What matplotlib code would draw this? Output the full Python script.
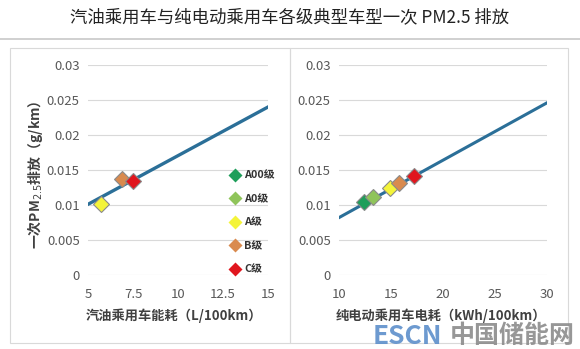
import matplotlib.pyplot as plt
from matplotlib.lines import Line2D
from matplotlib.patches import Rectangle

plt.rcParams['font.family'] = ['Noto Sans CJK SC', 'DejaVu Sans']

classes = ['A00级', 'A0级', 'A级', 'B级', 'C级']
class_colors = ['#1e9e5a', '#8fc45a', '#f4f43a', '#d98a4e', '#e0161e']

# gasoline cars: energy use (L/100km) vs PM2.5 (g/km), classes A, B, C
gas_cls = [2, 3, 4]
gas_x = [5.7, 6.9, 7.5]
gas_y = [0.0101, 0.0137, 0.0135]
gas_line_x = [5, 15]
gas_line_y = [0.0101, 0.0240]

# battery EVs: electricity use (kWh/100km) vs PM2.5 (g/km), all classes
ev_cls = [0, 1, 2, 3, 4]
ev_x = [12.4, 13.3, 14.9, 15.8, 17.2]
ev_y = [0.0104, 0.0111, 0.0125, 0.0131, 0.0142]
ev_line_x = [10, 30]
ev_line_y = [0.0082, 0.0246]

yticks = [0, 0.005, 0.01, 0.015, 0.02, 0.025, 0.03]
ytick_labels = ['0', '0.005', '0.01', '0.015', '0.02', '0.025', '0.03']

line_color = '#2b6f98'
tick_color = '#595959'

fig = plt.figure(figsize=(5.8, 3.49), dpi=100)

fig.text(0.5, 0.95, '汽油乘用车与纯电动乘用车各级典型车型一次 PM2.5 排放',
         ha='center', va='center', fontsize=12.5, color='#222222')
fig.add_artist(Line2D([0, 1], [0.888, 0.888], color='#c8c8c8', lw=1.2))

# panel frames
for x0, x1 in [(10, 290), (290, 568)]:
    fig.add_artist(Rectangle((x0 / 580, 1 - 343 / 349), (x1 - x0) / 580,
                             (343 - 48) / 349, transform=fig.transFigure,
                             facecolor='none', edgecolor='#d9d9d9', lw=0.8))

ax1 = fig.add_axes([88 / 580, 1 - 275 / 349, 180 / 580, 210 / 349])
ax2 = fig.add_axes([339 / 580, 1 - 275 / 349, 208 / 580, 210 / 349])


def style(ax, xticks):
    ax.set_ylim(0, 0.03)
    ax.set_yticks(yticks)
    ax.set_yticklabels(ytick_labels)
    ax.set_xticks(xticks)
    ax.set_xticklabels([f'{t:g}' for t in xticks])
    ax.set_xlim(xticks[0], xticks[-1])
    ax.grid(axis='y', color='#d9d9d9', lw=0.8)
    ax.set_axisbelow(True)
    for s in ax.spines.values():
        s.set_visible(False)
    ax.tick_params(length=0, labelsize=9.5, colors=tick_color)
    ax.tick_params(axis='x', pad=9)
    ax.tick_params(axis='y', pad=6)
    ax.patch.set_alpha(0)


style(ax1, [5, 7.5, 10, 12.5, 15])
style(ax2, [10, 15, 20, 25, 30])

ax1.plot(gas_line_x, gas_line_y, color=line_color, lw=2.4, zorder=2)
for c, x, y in zip(gas_cls, gas_x, gas_y):
    ax1.plot(x, y, 'D', ms=8.5, mfc=class_colors[c], mec='#8a8a8a', mew=0.8, zorder=3)

ax2.plot(ev_line_x, ev_line_y, color=line_color, lw=2.2, zorder=2)
for c, x, y in zip(ev_cls, ev_x, ev_y):
    ax2.plot(x, y, 'D', ms=8.5, mfc=class_colors[c], mec='#8a8a8a', mew=0.8, zorder=3)

handles = [Line2D([], [], ls='none', marker='D', ms=7.5, mfc=col, mec='none')
           for col in class_colors]
leg = ax1.legend(handles, classes, loc='lower left', bbox_to_anchor=(0.74, -0.045),
                 frameon=False, handlelength=0.8, handletextpad=0.4,
                 labelspacing=1.25, prop={'size': 7.8, 'weight': 'bold'})
for t in leg.get_texts():
    t.set_color('#333333')

fig.text(0.06, 0.50, '一次PM$_{2.5}$排放（g/km）', rotation=90, ha='center',
         va='center', fontsize=10, fontweight='bold', color='#404040')
fig.text(174 / 580, 1 - 316 / 349, '汽油乘用车能耗（L/100km）', ha='center',
         va='center', fontsize=9.5, fontweight='bold', color='#404040')
fig.text(441 / 580, 1 - 316 / 349, '纯电动乘用车电耗（kWh/100km）', ha='center',
         va='center', fontsize=9.5, fontweight='bold', color='#404040')

# watermark
fig.text(373 / 580, 1 - 336 / 349, 'ESCN', ha='left', va='center', fontsize=19,
         fontweight='bold', color='#5d8fcb', alpha=0.9)
fig.text(450 / 580, 1 - 336 / 349, '中国储能网', ha='left', va='center', fontsize=18,
         fontweight='bold', color='#8c8c8c', alpha=0.9)

fig.savefig('out.png', dpi=100)
plt.close()
